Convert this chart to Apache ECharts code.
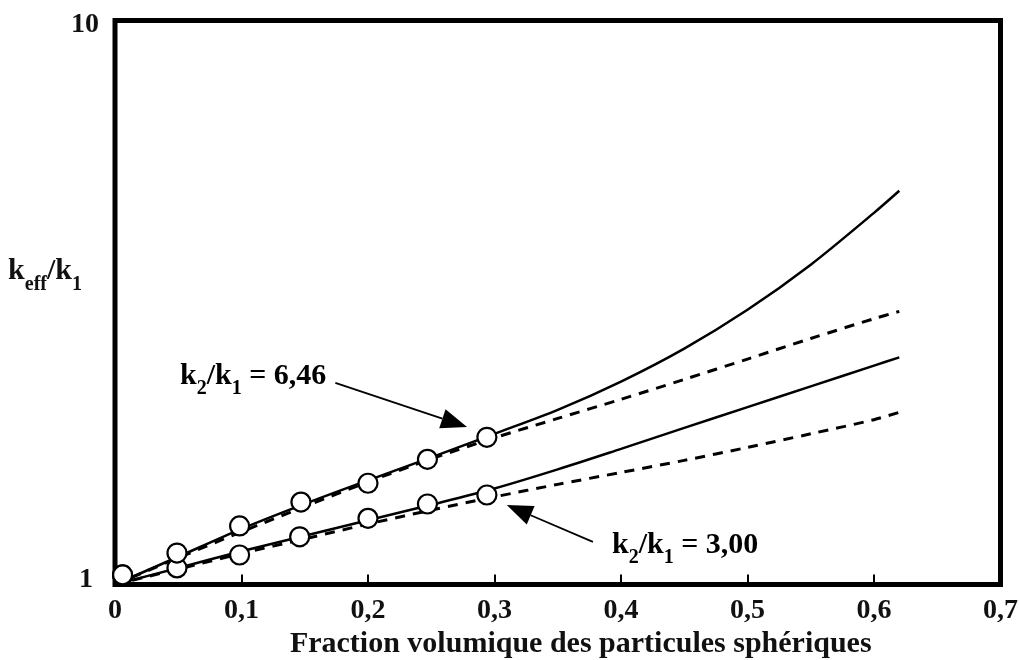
<!DOCTYPE html>
<html>
<head>
<meta charset="utf-8">
<script src="https://cdn.jsdelivr.net/npm/echarts@6/dist/echarts.min.js"></script>
<style>
  html, body { margin: 0; padding: 0; background: #fff; }
  #chart { width: 1019px; height: 660px; }
</style>
</head>
<body>
<div id="chart"></div>
<script>
// Volume fraction of spherical particles (x) for the model curves
const fractions = [0, 0.05, 0.1, 0.15, 0.2, 0.25, 0.3, 0.35, 0.4, 0.45, 0.5, 0.55, 0.6, 0.62];

// k2/k1 = 6,46 : solid model curve and dashed Maxwell curve
const modelHigh   = [1, 1.12, 1.255, 1.39, 1.53, 1.68, 1.85, 2.04, 2.29, 2.62, 3.07, 3.69, 4.56, 4.99];
const maxwellHigh = [1, 1.115, 1.24, 1.375, 1.52, 1.67, 1.82, 1.97, 2.13, 2.31, 2.51, 2.73, 2.96, 3.05];

// k2/k1 = 3,00 : solid model curve and dashed Maxwell curve
const modelLow    = [1, 1.07, 1.145, 1.22, 1.30, 1.385, 1.48, 1.60, 1.74, 1.895, 2.063, 2.245, 2.444, 2.528];
const maxwellLow  = [1, 1.065, 1.135, 1.205, 1.28, 1.355, 1.43, 1.505, 1.58, 1.66, 1.75, 1.85, 1.96, 2.02];

// Measured points (open circles)
const measuredHighX = [0.006, 0.049, 0.0985, 0.147, 0.2, 0.247, 0.294];
const measuredHighY = [1.04, 1.137, 1.27, 1.40, 1.512, 1.667, 1.824];
const measuredLowX  = [0.006, 0.049, 0.0985, 0.146, 0.2, 0.247, 0.294];
const measuredLowY  = [1.04, 1.07, 1.128, 1.215, 1.31, 1.389, 1.441];

// Axis ticks
const xTickValues = [0, 0.1, 0.2, 0.3, 0.4, 0.5, 0.6, 0.7];
const yTickValues = [1, 10];

// Annotation texts and arrow anchors (data coordinates: [x, k_eff/k1])
const labelHigh = 'k2/k1 = 6,46';
const labelLow  = 'k2/k1 = 3,00';
const arrowHigh = { from: [0.1742, 2.277], to: [0.2783, 1.903] };
const arrowLow  = { from: [0.3778, 1.19],  to: [0.3097, 1.383] };

const pairs = (xs, ys) => xs.map((x, i) => [x, ys[i]]);

const FONT = "'Liberation Serif', 'DejaVu Serif', serif";
const INK = '#111';

const richK = {
  m: { fontFamily: FONT, fontWeight: 'bold', fontSize: 30, color: INK, lineHeight: 38, verticalAlign: 'top' },
  s: { fontFamily: FONT, fontWeight: 'bold', fontSize: 20, color: INK, lineHeight: 20, padding: [18, 0, 0, 0], verticalAlign: 'top' }
};

// turns "k2/k1 = 6,46" into rich text with subscripted indices
function ratioRich(txt) {
  const m = txt.match(/^k(\d)\/k(\d)(.*)$/);
  return '{m|k}{s|' + m[1] + '}{m|/k}{s|' + m[2] + '}{m|' + m[3] + '}';
}

const chart = echarts.init(document.getElementById('chart'), null, { renderer: 'canvas' });

const lineBase = { type: 'line', showSymbol: false, symbol: 'none', smooth: 0.3, z: 2 };
const solid = { color: '#000', width: 2.5, type: 'solid' };
const dashed = { color: '#000', width: 3, type: [10, 8] };
const tickFont = { fontFamily: FONT, fontWeight: 'bold', fontSize: 28, color: INK };

const option = {
  animation: false,
  backgroundColor: '#fff',
  grid: {
    left: 115, right: 18.5, top: 20.5, bottom: 75.5,
    outerBoundsMode: 'none', containLabel: false,
    show: true, borderColor: '#000', borderWidth: 5, backgroundColor: 'transparent'
  },
  xAxis: {
    type: 'value', min: xTickValues[0], max: xTickValues[xTickValues.length - 1], interval: 0.1,
    axisLine: { show: false },
    axisTick: { show: true, inside: true, length: 10, lineStyle: { color: '#000', width: 2 } },
    splitLine: { show: false },
    axisLabel: Object.assign({
      showMinLabel: true, showMaxLabel: true, margin: 12,
      formatter: v => (v === 0 ? '0' : v.toFixed(1).replace('.', ','))
    }, tickFont),
    name: 'Fraction volumique des particules sphériques',
    nameLocation: 'middle', nameGap: 45, nameMoveOverlap: false,
    nameTextStyle: { fontFamily: FONT, fontWeight: 'bold', fontSize: 30, color: INK, padding: [0, 0, 0, 46] }
  },
  yAxis: {
    type: 'log', logBase: 10, min: yTickValues[0], max: yTickValues[1],
    axisLine: { show: false },
    axisTick: { show: false },
    splitLine: { show: false },
    axisLabel: Object.assign({
      margin: 16,
      formatter: v => (v >= 10 ? '{hi|' + v + '}' : '{lo|' + v + '}'),
      rich: {
        hi: Object.assign({ padding: [8, 0, 0, 0] }, tickFont),
        lo: Object.assign({ padding: [0, 6, 10, 0] }, tickFont)
      }
    }, tickFont),
    name: '{m|k}{s|eff}{m|/k}{s|1}',
    nameLocation: 'middle', nameRotate: 0, nameGap: 33, nameMoveOverlap: false,
    nameTextStyle: { rich: richK, padding: [0, 0, 54, 0] }
  },
  series: [
    Object.assign({}, lineBase, { name: 'modèle 6,46', data: pairs(fractions, modelHigh), lineStyle: solid }),
    Object.assign({}, lineBase, { name: 'Maxwell 6,46', data: pairs(fractions, maxwellHigh), lineStyle: dashed }),
    Object.assign({}, lineBase, { name: 'modèle 3,00', data: pairs(fractions, modelLow), lineStyle: solid }),
    Object.assign({}, lineBase, { name: 'Maxwell 3,00', data: pairs(fractions, maxwellLow), lineStyle: dashed }),
    {
      type: 'scatter', name: 'mesures 3,00', z: 4, symbol: 'circle', symbolSize: 19,
      itemStyle: { color: '#fff', borderColor: '#000', borderWidth: 2.2, opacity: 1 },
      data: pairs(measuredLowX, measuredLowY)
    },
    {
      type: 'scatter', name: 'mesures 6,46', z: 5, symbol: 'circle', symbolSize: 19,
      itemStyle: { color: '#fff', borderColor: '#000', borderWidth: 2.2, opacity: 1 },
      data: pairs(measuredHighX, measuredHighY)
    }
  ]
};

chart.setOption(option);

// arrow with filled triangular head, drawn between two data points
function arrowShapes(a, len, halfW) {
  const p1 = chart.convertToPixel({ gridIndex: 0 }, a.from);
  const p2 = chart.convertToPixel({ gridIndex: 0 }, a.to);
  const dx = p2[0] - p1[0], dy = p2[1] - p1[1];
  const d = Math.hypot(dx, dy);
  const ux = dx / d, uy = dy / d;
  const bx = p2[0] - ux * len, by = p2[1] - uy * len;
  return [
    { type: 'line', silent: true, z: 10,
      shape: { x1: p1[0], y1: p1[1], x2: bx, y2: by },
      style: { stroke: '#000', lineWidth: 1.8 } },
    { type: 'polygon', silent: true, z: 10,
      shape: { points: [[p2[0], p2[1]], [bx - uy * halfW, by + ux * halfW], [bx + uy * halfW, by - ux * halfW]] },
      style: { fill: '#000' } }
  ];
}

chart.setOption({
  graphic: [
    { type: 'text', left: 180, top: 361, z: 10,
      style: { text: ratioRich(labelHigh), rich: richK } },
    { type: 'text', left: 612, top: 530, z: 10,
      style: { text: ratioRich(labelLow), rich: richK } }
  ].concat(arrowShapes(arrowHigh, 26, 10), arrowShapes(arrowLow, 26, 10))
});
</script>
</body>
</html>
